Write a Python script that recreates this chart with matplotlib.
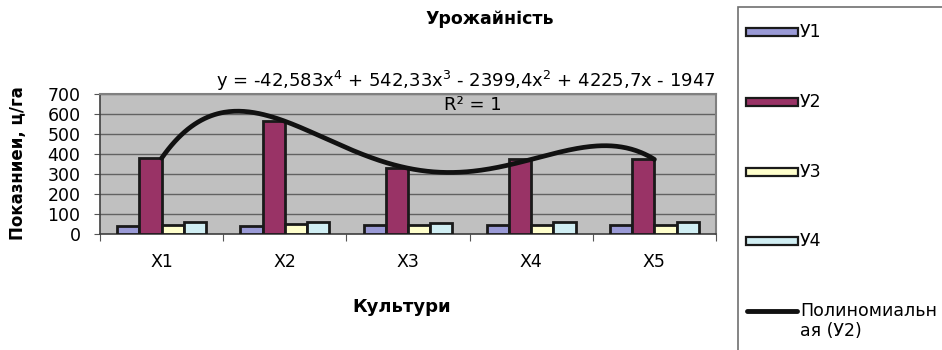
import numpy as np
import matplotlib
matplotlib.use("Agg")
import matplotlib.pyplot as plt
from matplotlib.patches import Rectangle
from matplotlib.lines import Line2D

plt.rcParams['font.family'] = ['DejaVu Sans']
plt.rcParams['mathtext.fontset'] = 'dejavusans'

categories = ["X1", "X2", "X3", "X4", "X5"]
series_names = ["У1", "У2", "У3", "У4"]
y1 = [42, 42, 44, 45, 44]
y2 = [379, 564, 329, 373, 373]
y3 = [45, 48, 46, 44, 44]
y4 = [60, 60, 54, 60, 60]
series = [y1, y2, y3, y4]
colors = ["#9A9AD6", "#993366", "#FFFFCC", "#D0EEF3"]
y_ticks = [0, 100, 200, 300, 400, 500, 600, 700]

W, H = 942, 350
fig = plt.figure(figsize=(W / 100, H / 100), dpi=100)
fig.patch.set_facecolor("white")

def fx(px):
    return px / W

def fy(py):
    return 1 - py / H

ax = fig.add_axes([fx(100), fy(234), fx(716) - fx(100), fy(94) - fy(234)])
ax.set_facecolor("#C0C0C0")

n = len(categories)
x = np.arange(1, n + 1)
bar_w = 0.18
offsets = (np.arange(len(series)) - (len(series) - 1) / 2) * bar_w
for vals, off, col in zip(series, offsets, colors):
    ax.bar(x + off, vals, width=bar_w, color=col, edgecolor="#1a1a1a",
           linewidth=2.0, zorder=3)

# 4th-order polynomial trend for У2
coef = np.polyfit(x, y2, 4)
xs = np.linspace(1, 5, 300)
ax.plot(xs, np.polyval(coef, xs), color="#111111", lw=3.4,
        solid_capstyle="round", zorder=4)

ax.set_xlim(0.5, n + 0.5)
ax.set_ylim(0, 700)
ax.set_yticks(y_ticks)
ax.set_yticklabels([str(t) for t in y_ticks], fontsize=12.5)
ax.yaxis.grid(True, color="#626262", lw=1.0, zorder=0)
ax.set_axisbelow(True)

# category labels at centers, tick marks on boundaries
ax.set_xticks(np.arange(0.5, n + 1.0, 1.0))
ax.set_xticklabels([])
ax.set_xticks(x, minor=True)
ax.set_xticklabels(categories, minor=True, fontsize=12.5)
ax.tick_params(axis="x", which="minor", length=0, pad=14)
ax.tick_params(axis="x", which="major", length=5, direction="out",
               color="#555555")
ax.tick_params(axis="y", length=4, direction="out", color="#555555", pad=10)

for side in ("top", "right"):
    ax.spines[side].set_color("#808080")
    ax.spines[side].set_linewidth(1.5)
ax.spines["left"].set_color("#404040")
ax.spines["bottom"].set_color("#404040")
ax.spines["left"].set_linewidth(1.2)
ax.spines["bottom"].set_linewidth(1.2)

fig.text(fx(490), fy(19), "Урожайність", ha="center", va="center",
         fontsize=12.5, fontweight="bold")
fig.text(fx(466), fy(81),
         "y = -42,583x$^{4}$ + 542,33x$^{3}$ - 2399,4x$^{2}$ + 4225,7x - 1947",
         ha="center", va="center", fontsize=13)
fig.text(fx(473), fy(105), "R² = 1", ha="center", va="center", fontsize=13)
fig.text(fx(18), fy(163), "Показниеи, ц/га", ha="center", va="center",
         rotation=90, fontsize=12, fontweight="bold")
fig.text(fx(402), fy(307), "Культури", ha="center", va="center",
         fontsize=13, fontweight="bold")

# legend box
fig.patches.append(Rectangle((fx(738), fy(360)), fx(220), fy(7) - fy(360),
                             transform=fig.transFigure, facecolor="white",
                             edgecolor="#707070", lw=1.2))
entry_y = [32, 102, 172, 241]
for name, col, yy in zip(series_names, colors, entry_y):
    fig.patches.append(Rectangle((fx(746), fy(yy + 4)), fx(52), fy(yy - 4) - fy(yy + 4),
                                 transform=fig.transFigure, facecolor=col,
                                 edgecolor="#1a1a1a", lw=1.6))
    fig.text(fx(800), fy(yy), name, ha="left", va="center", fontsize=12.5)
fig.lines.append(Line2D([fx(747), fx(797)], [fy(311), fy(311)],
                        transform=fig.transFigure, color="#111111", lw=3.5,
                        solid_capstyle="round"))
fig.text(fx(800), fy(321), "Полиномиальн\nая (У2)", ha="left", va="center",
         fontsize=12.5, linespacing=1.2)

fig.savefig("out.png", dpi=100)
